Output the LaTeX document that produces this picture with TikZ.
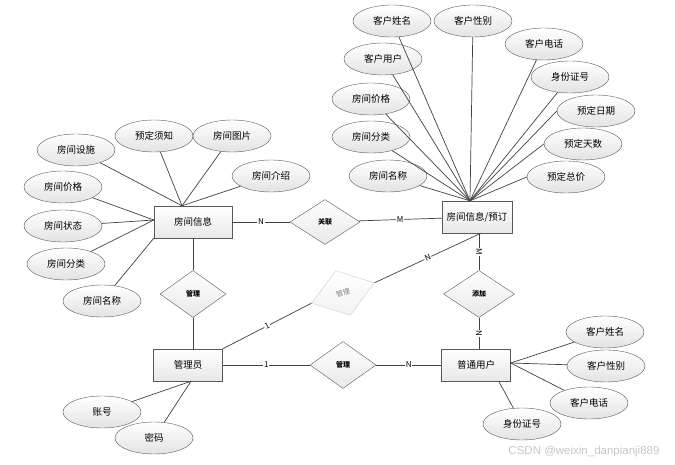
\documentclass[tikz,border=0pt]{standalone}
\usepackage{fontspec}
\setmainfont{Noto Sans CJK SC}
\newfontfamily\markfont{Liberation Sans}
\usetikzlibrary{shapes.geometric}

\tikzset{
  entity/.style={draw=gray!70!black, top color=white, bottom color=gray!18,
    minimum width=70pt, minimum height=32pt, inner sep=0pt,
    font=\fontsize{9.5}{11}\selectfont},
  attr/.style={ellipse, draw=gray!70!black, top color=white, bottom color=gray!22,
    minimum width=78pt, minimum height=32pt, inner sep=0pt,
    font=\fontsize{9.5}{11}\selectfont},
  rel/.style={diamond, draw=gray!70!black, top color=white, bottom color=gray!18,
    minimum width=66pt, minimum height=47pt, inner sep=0pt,
    font=\fontsize{7}{8}\selectfont\bfseries},
  card/.style={fill=white, inner sep=0.8pt, font=\fontsize{8}{9}\selectfont},
  link/.style={draw=black!75, line width=0.7pt}
}

\begin{document}
\begin{tikzpicture}[x=1pt, y=-1pt]
  \useasboundingbox (0,0) rectangle (675,465);

  % entities
  \node[entity, minimum width=78pt] (room) at (193,222) {房间信息};
  \node[entity] (book) at (477,217) {房间信息/预订};
  \node[entity, minimum width=69pt] (admin) at (188,365) {管理员};
  \node[entity, minimum width=69pt] (user) at (476,365) {普通用户};

  % relations
  \node[rel, minimum width=70pt, minimum height=45pt] (assoc) at (325,222) {关联};
  \node[rel] (manageA) at (193,294) {管理};
  \node[rel] (manageB) at (343,365) {管理};
  \node[rel, minimum width=71pt] (add) at (479,294) {添加};
  \node[rel, rotate=18, draw=gray!40, bottom color=gray!10, text=gray,
    font=\fontsize{7}{8}\selectfont] (manageC) at (343,293) {管理};

  % room attributes
  \node[attr] (rfac) at (76,150) {房间设施};
  \node[attr] (rnote) at (154,136) {预定须知};
  \node[attr] (rpic) at (232,136) {房间图片};
  \node[attr] (rintro) at (271,176) {房间介绍};
  \node[attr] (rprice) at (63,187) {房间价格};
  \node[attr] (rstate) at (63,226) {房间状态};
  \node[attr] (rtype) at (66,264) {房间分类};
  \node[attr] (rname) at (102,301) {房间名称};
  \coordinate (roomtop) at ([xshift=-11pt]room.north);
  \coordinate (roomleft) at ([yshift=2pt]room.west);
  \foreach \a in {rfac,rnote,rpic,rintro} \draw[link] (\a) -- (roomtop);
  \foreach \a in {rprice,rstate,rtype} \draw[link] (\a) -- (roomleft);
  \draw[link] (rname) -- (room.south west);

  % booking attributes
  \node[attr] (bcname) at (392,21) {客户姓名};
  \node[attr] (bcsex) at (473,21) {客户性别};
  \node[attr] (bctel) at (544,44) {客户电话};
  \node[attr] (bcuser) at (383,59) {客户用户};
  \node[attr] (bcid) at (570,77) {身份证号};
  \node[attr] (bprice) at (371,99) {房间价格};
  \node[attr] (bdate) at (596,111) {预定日期};
  \node[attr] (btype) at (371,137) {房间分类};
  \node[attr] (bdays) at (583,144) {预定天数};
  \node[attr] (bname) at (388,176) {房间名称};
  \node[attr] (btotal) at (566,177) {预定总价};
  \coordinate (booktop) at ([xshift=-7pt]book.north);
  \foreach \a in {bcname,bcsex,bctel,bcuser,bcid,bprice,btype,bname}
    \draw[link] (\a) -- (booktop);
  \foreach \a in {bdate,bdays,btotal}
    \draw[link] (\a.west) -- (booktop);

  % user attributes
  \node[attr] (uname) at (605,332) {客户姓名};
  \node[attr] (usex) at (606,366) {客户性别};
  \node[attr] (utel) at (589,403) {客户电话};
  \node[attr] (uid) at (522,424) {身份证号};
  \coordinate (userright) at ([yshift=2pt]user.east);
  \foreach \a in {uname,usex,utel} \draw[link] (\a) -- (userright);
  \draw[link] (uid) -- ([xshift=-12pt]user.south east);

  % admin attributes
  \node[attr] (aacc) at (102,412) {账号};
  \node[attr] (apwd) at (154,438) {密码};
  \coordinate (adminbot) at ([xshift=3pt]admin.south);
  \draw[link] (aacc) -- (adminbot);
  \draw[link] (apwd) -- (adminbot);

  % relationships
  \draw[link] (room) -- node[card] {N} (assoc);
  \draw[link] (assoc) -- node[card] {M} (book);
  \draw[link] (room) -- (manageA);
  \draw[link] (manageA.south) -- (manageA.south |- admin.north);
  \draw[link] (add.north |- book.south) -- node[card, rotate=-90] {M} (add);
  \draw[link] (add) -- node[card, rotate=-90] {N} (add.south |- user.north);
  \draw[link] ([xshift=4pt]book.south) -- node[card, sloped] {N} (manageC.east);
  \draw[link] (manageC.west) -- node[card, sloped] {1} (admin.north east);
  \draw[link] (admin) -- node[card] {1} (manageB);
  \draw[link] (manageB) -- node[card] {N} (user);

  \node[text=gray!45, font=\markfont\fontsize{11.5}{13}\selectfont] (mark) at (584,452)
    {CSDN @weixin\_danpianji889};
\end{tikzpicture}
\end{document}
